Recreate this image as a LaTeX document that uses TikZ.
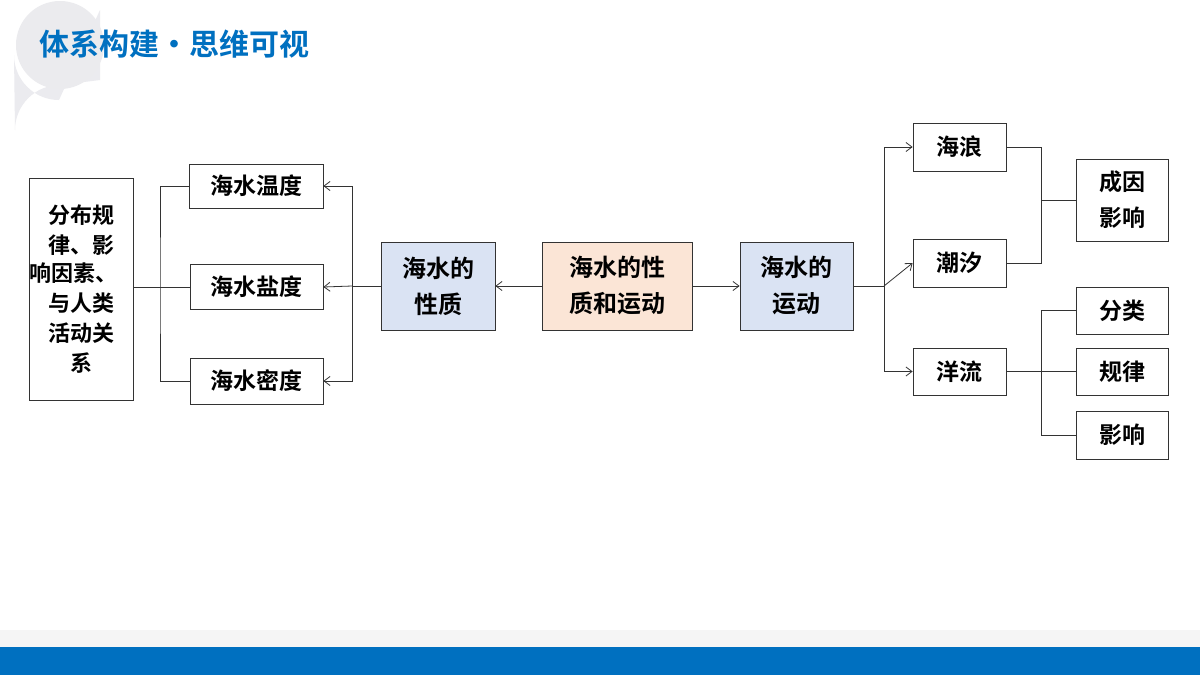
\documentclass[tikz,border=0pt]{standalone}
\usepackage{fontspec}
\setmainfont{Noto Sans CJK SC}[BoldFont={Noto Sans CJK SC Bold}]
\usetikzlibrary{arrows.meta}
\definecolor{tblue}{HTML}{0070C0}
\definecolor{lblue}{HTML}{DAE3F3}
\definecolor{lpeach}{HTML}{FBE5D6}
\begin{document}
\begin{tikzpicture}[x=1pt,y=-1pt,
  box/.style={draw=black!80,line width=0.8pt,inner sep=0pt,align=center,font=\bfseries\fontsize{23}{28}\selectfont},
  ln/.style={draw=black!80,line width=0.8pt},
  ar/.style={ln,-{Straight Barb[length=6pt,width=9pt]}}]
\useasboundingbox (0,0) rectangle (1200,675);
\fill[white] (0,0) rectangle (1200,675);
\fill[black!4] (0,630) rectangle (1200,647);
\fill[tblue] (0,647) rectangle (1200,675);
\fill[blue!20!black!8] (14,55) arc (180:90:45) -- (100,10) -- (100,80) -- (60,85) arc(270:180:45) -- cycle;
\fill[blue!15!black!8] (60,45) circle (44);
\node[anchor=west,text=tblue,font=\bfseries\fontsize{30}{34}\selectfont] (title) at (36,44) {体系构建•思维可视};
% left
\node[box,minimum width=104,minimum height=222,font=\bfseries\fontsize{22}{30}\selectfont] (L) at (81,289) {分布规\\律、影\\[-2pt]\hspace*{-14pt}响因素、\\与人类\\活动关\\系};
\node[box,minimum width=134,minimum height=44] (t) at (256,186) {海水温度};
\node[box,minimum width=133,minimum height=45] (s) at (256.5,287) {海水盐度};
\node[box,minimum width=133,minimum height=46] (d) at (256.5,381) {海水密度};
\node[box,fill=lblue,minimum width=114,minimum height=88,font=\bfseries\fontsize{24}{36}\selectfont] (xz) at (438,286) {海水的\\性质};
\node[box,fill=lpeach,minimum width=150,minimum height=88,font=\bfseries\fontsize{24}{36}\selectfont] (c) at (617,286) {海水的性\\质和运动};
\node[box,fill=lblue,minimum width=113,minimum height=88,font=\bfseries\fontsize{24}{36}\selectfont] (yd) at (796.5,286) {海水的\\运动};
\node[box,minimum width=93,minimum height=48] (hl) at (959.5,147) {海浪};
\node[box,minimum width=93,minimum height=48] (cx) at (959.5,263) {潮汐};
\node[box,minimum width=93,minimum height=47] (yl) at (959.5,371.5) {洋流};
\node[box,minimum width=92,minimum height=82,font=\bfseries\fontsize{23}{36}\selectfont] (cy) at (1122,200) {成因\\影响};
\node[box,minimum width=92,minimum height=47] (fl) at (1122,310.5) {分类};
\node[box,minimum width=92,minimum height=47] (gl) at (1122,371.5) {规律};
\node[box,minimum width=92,minimum height=48] (yx) at (1122,435) {影响};
\coordinate (lj) at (160,287);
\coordinate (rj) at (352,286);
\coordinate (yj) at (884,286);
\coordinate (hj) at (1041,200);
\coordinate (oj) at (1041,371.5);
% left tree
\draw[ln] (L.east |- lj) -- (lj);
\draw[ln] (t.west) -| (lj) |- (d.west);
\draw[ln] (lj) -- (s.west);
% property tree
\draw[ln] (xz.west) -- (rj);
\draw[ar] (rj) |- (t.east);
\draw[ar] (rj) |- (d.east);
\draw[ar] (rj) -- (s.east);
\draw[ar] (c.west) -- (xz.east);
\draw[ar] (c.east) -- (yd.west);
% motion tree
\draw[ln] (yd.east) -- (yj);
\draw[ar] (yj) |- (hl.west);
\draw[ar] (yj) -- (cx.west);
\draw[ar] (yj) |- (yl.west);
\draw[ln] (hl.east) -| (hj) |- (cx.east);
\draw[ln] (hj) -- (cy.west);
\draw[ln] (yl.east) -- (oj);
\draw[ln] (fl.west) -| (oj) |- (yx.west);
\draw[ln] (oj) -- (gl.west);
\end{tikzpicture}
\end{document}
